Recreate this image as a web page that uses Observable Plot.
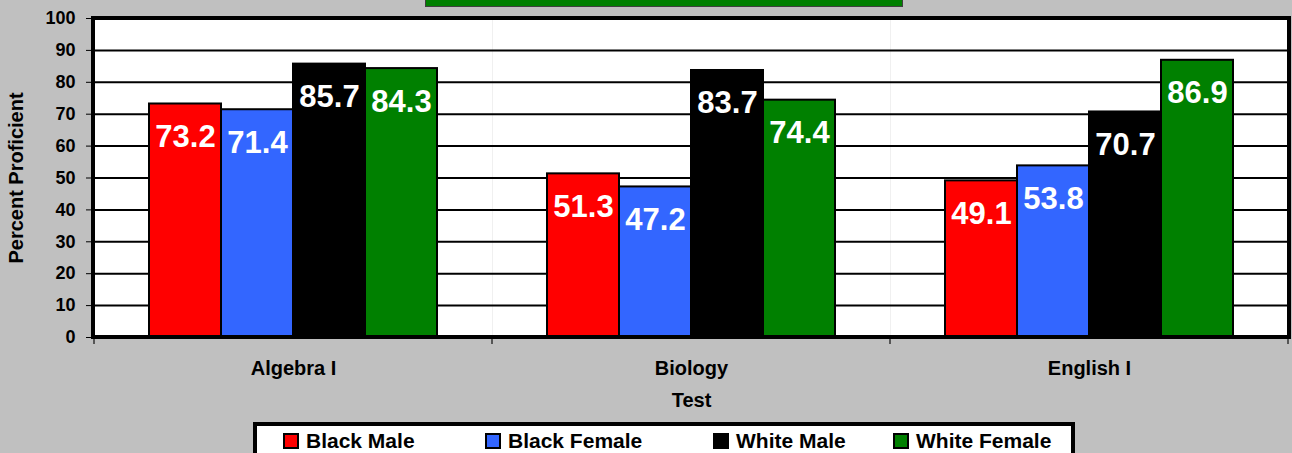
<!DOCTYPE html>
<html>
<head>
<meta charset="utf-8">
<script src="https://cdn.jsdelivr.net/npm/d3@7"></script>
<script src="https://cdn.jsdelivr.net/npm/@observablehq/plot@0.6"></script>
<style>
  html, body { margin: 0; padding: 0; }
  body { width: 1292px; height: 453px; background: #C0C0C0; position: relative; overflow: hidden;
         font-family: "Liberation Sans", Arial, sans-serif; font-weight: bold; }
  #chart { position: absolute; left: 0; top: 0; }
  #titlebox { position: absolute; left: 425px; top: -20px; width: 476px; height: 25px;
              background: #008000; border: 1px solid #404040; }
  #legend { position: absolute; left: 253px; top: 422px; width: 822px; height: 44px; box-sizing: border-box;
            background: #fff; border: 4px solid #000; display: flex; align-items: flex-start; padding-left: 26px; }
  .item { display: flex; align-items: center; height: 30px; font-size: 21px; color: #000; white-space: nowrap; }
  .sw { width: 16px; height: 16px; box-sizing: border-box; border: 2px solid #000; margin-right: 7px; flex: none; }
</style>
</head>
<body>
<div id="chart"></div>
<div id="titlebox"></div>
<div id="legend"></div>
<script>
const tests = ["Algebra I", "Biology", "English I"];
const groups = ["Black Male", "Black Female", "White Male", "White Female"];
const blackMale = [73.2, 51.3, 49.1];
const blackFemale = [71.4, 47.2, 53.8];
const whiteMale = [85.7, 83.7, 70.7];
const whiteFemale = [84.3, 74.4, 86.9];
const colors = ["#FF0000", "#3366FF", "#000000", "#008000"];
const yTicks = [0, 10, 20, 30, 40, 50, 60, 70, 80, 90, 100];
const legendWidths = [202, 228, 180, 170];

const seriesValues = [blackMale, blackFemale, whiteMale, whiteFemale];
const data = tests.flatMap((t, i) => groups.map((g, j) => ({test: t, group: g, value: seriesValues[j][i]})));

const W = 1292, H = 415, mL = 93, mR = 3, mT = 18, mB = 78;

const plot = Plot.plot({
  width: W, height: H,
  marginTop: mT, marginLeft: mL, marginRight: mR, marginBottom: mB,
  style: {background: "transparent", fontFamily: "'Liberation Sans', Arial, sans-serif", fontWeight: "bold", fontSize: "18px", color: "#000"},
  fx: {domain: tests, padding: 0},
  x: {domain: groups, paddingInner: 0, paddingOuter: 0.745, axis: null},
  y: {domain: [0, 100]},
  color: {type: "ordinal", domain: groups, range: colors},
  marks: [
    Plot.frame({fill: "white", stroke: "none"}),
    Plot.ruleY(yTicks.filter(v => v > 0 && v < 100), {stroke: "#000", strokeWidth: 2}),
    Plot.barY(data, {fx: "test", x: "group", y: "value", fill: "group", stroke: "#000", strokeWidth: 2}),
    Plot.text(data, {fx: "test", x: "group", y: "value", text: d => d.value.toFixed(1), fill: "white",
                     fontSize: 31, fontWeight: "bold", dy: 33, lineAnchor: "middle"}),
    Plot.axisY({anchor: "left", ticks: yTicks, tickSize: 8, tickPadding: 11, fontSize: 18, fontWeight: "bold",
                stroke: "#000", label: null}),
    Plot.axisY({anchor: "left", ticks: [], tickSize: 0, fontSize: 20, fontWeight: "bold",
                label: "Percent Proficient", labelAnchor: "center", labelOffset: 86, labelArrow: "none"}),
    Plot.axisFx({anchor: "bottom", tickSize: 0, tickPadding: 23, fontSize: 20, fontWeight: "bold",
                 label: "Test", labelAnchor: "center", labelOffset: 69, labelArrow: "none"})
  ]
});

document.getElementById("chart").appendChild(plot);

// outer plot-area border and category boundary ticks, derived from the scales
const ys = plot.scale("y"), fxs = plot.scale("fx");
const y0 = ys.apply(0), y100 = ys.apply(100);
const svg = d3.select(plot);
const bounds = tests.map(t => fxs.apply(t)).concat([fxs.apply(tests[tests.length - 1]) + fxs.bandwidth]);
svg.append("g").selectAll("line").data(bounds).join("line")
  .attr("x1", d => d).attr("x2", d => d).attr("y1", y0 + 2).attr("y2", y0 + 7)
  .attr("stroke", "#333").attr("stroke-width", 1.5);
svg.append("rect")
  .attr("x", mL).attr("y", y100).attr("width", W - mL - mR).attr("height", y0 - y100)
  .attr("fill", "none").attr("stroke", "#000").attr("stroke-width", 4);

// legend
const legend = d3.select("#legend");
groups.forEach((g, i) => {
  const it = legend.append("div").attr("class", "item").style("width", legendWidths[i] + "px");
  it.append("div").attr("class", "sw").style("background", colors[i]);
  it.append("span").text(g);
});
</script>
</body>
</html>
